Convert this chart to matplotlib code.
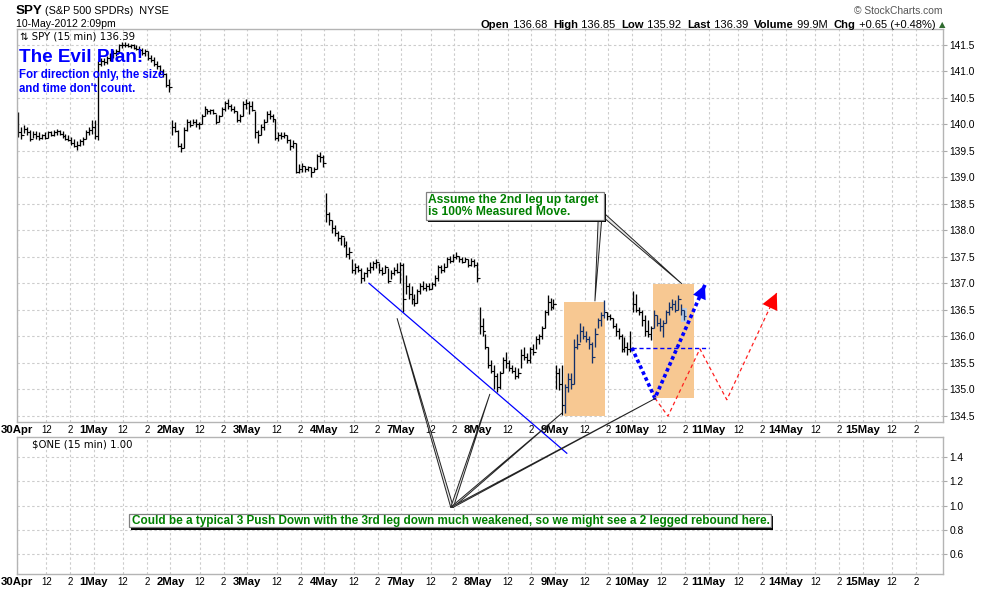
import matplotlib
matplotlib.use('Agg')
import matplotlib.pyplot as plt
from matplotlib.patches import Rectangle, Polygon
from matplotlib import patheffects
from matplotlib.ticker import FormatStrFormatter
from matplotlib.offsetbox import TextArea, HPacker, AnchoredOffsetbox

plt.rcParams['font.family'] = ['Liberation Sans', 'DejaVu Sans']

# trading days on the x axis, 26 bars of 15 min per day
days = ['30Apr', '1May', '2May', '3May', '4May', '7May', '8May',
        '9May', '10May', '11May', '14May', '15May']
bars_per_day = 26

# SPY 15 min bars, one row per day (10May is not finished)
high = [
    [140.24, 139.95, 139.98, 139.95, 139.90, 139.88, 139.88, 139.85, 139.82, 139.85, 139.88, 139.88, 139.90,
     139.92, 139.90, 139.88, 139.82, 139.80, 139.76, 139.72, 139.68, 139.72, 139.76, 139.90, 139.95, 140.08],
    [140.08, 141.20, 141.25, 141.25, 141.30, 141.35, 141.40, 141.42, 141.52, 141.56, 141.56, 141.53, 141.52,
     141.52, 141.50, 141.48, 141.45, 141.42, 141.38, 141.32, 141.28, 141.20, 141.12, 141.05, 140.98, 140.85],
    [140.08, 140.05, 139.90, 139.65, 139.95, 140.10, 140.08, 140.10, 140.10, 140.05, 140.20, 140.35, 140.30,
     140.30, 140.30, 140.20, 140.18, 140.32, 140.45, 140.48, 140.38, 140.35, 140.25, 140.20, 140.45, 140.48],
    [140.45, 140.45, 140.25, 139.90, 140.00, 140.10, 140.25, 140.28, 140.20, 140.10, 139.85, 139.85, 139.85,
     139.80, 139.72, 139.70, 139.65, 139.25, 139.28, 139.22, 139.22, 139.20, 139.20, 139.45, 139.48, 139.42],
    [138.70, 138.35, 138.20, 138.10, 137.98, 137.92, 137.88, 137.80, 137.68, 137.45, 137.38, 137.35, 137.28,
     137.22, 137.30, 137.40, 137.42, 137.45, 137.38, 137.30, 137.35, 137.28, 137.25, 137.30, 137.38, 137.40],
    [137.38, 137.15, 137.00, 136.95, 136.80, 136.90, 137.00, 137.05, 137.00, 137.00, 137.02, 137.15, 137.35,
     137.35, 137.38, 137.50, 137.52, 137.55, 137.60, 137.52, 137.50, 137.50, 137.45, 137.48, 137.45, 137.40],
    [136.55, 136.35, 136.05, 135.80, 135.55, 135.45, 135.30, 135.35, 135.60, 135.70, 135.55, 135.45, 135.42,
     135.40, 135.75, 135.80, 135.68, 135.80, 135.85, 136.00, 136.05, 136.20, 136.50, 136.78, 136.72, 136.70],
    [135.45, 135.40, 135.45, 135.10, 135.30, 135.30, 135.95, 136.05, 136.25, 136.20, 136.10, 136.00, 135.90,
     136.15, 136.35, 136.45, 136.68, 136.45, 136.42, 136.35, 136.25, 136.15, 136.05, 135.98, 135.90, 136.10],
    [136.85, 136.80, 136.55, 136.50, 136.40, 136.30, 136.20, 136.50, 136.40, 136.35, 136.30, 136.50, 136.65,
     136.70, 136.68, 136.78, 136.60, 136.50],
]
low = [
    [139.77, 139.72, 139.84, 139.80, 139.68, 139.75, 139.72, 139.70, 139.72, 139.72, 139.75, 139.78, 139.78,
     139.80, 139.80, 139.75, 139.70, 139.68, 139.62, 139.58, 139.52, 139.60, 139.62, 139.72, 139.80, 139.82],
    [139.72, 139.70, 141.10, 141.12, 141.15, 141.20, 141.25, 141.30, 141.35, 141.45, 141.47, 141.46, 141.45,
     141.42, 141.40, 141.35, 141.32, 141.30, 141.22, 141.18, 141.10, 141.05, 140.95, 140.90, 140.70, 140.62],
    [139.80, 139.85, 139.57, 139.48, 139.55, 139.88, 139.95, 140.00, 139.95, 139.92, 140.00, 140.15, 140.20,
     140.20, 140.20, 140.00, 140.05, 140.15, 140.25, 140.30, 140.25, 140.22, 140.05, 140.05, 140.15, 140.30],
    [140.20, 140.25, 139.75, 139.65, 139.80, 139.90, 140.05, 140.10, 140.05, 139.70, 139.68, 139.72, 139.75,
     139.65, 139.52, 139.55, 139.08, 139.08, 139.10, 139.10, 139.12, 139.00, 139.10, 139.15, 139.30, 139.20],
    [138.15, 138.10, 137.95, 137.90, 137.80, 137.72, 137.68, 137.50, 137.45, 137.20, 137.18, 137.22, 137.00,
     137.05, 137.12, 137.20, 137.25, 137.28, 137.20, 137.15, 137.20, 137.00, 137.08, 137.15, 137.20, 137.00],
    [136.45, 136.80, 136.70, 136.60, 136.58, 136.62, 136.80, 136.88, 136.85, 136.88, 136.90, 136.95, 137.05,
     137.20, 137.22, 137.30, 137.38, 137.40, 137.45, 137.40, 137.38, 137.40, 137.30, 137.32, 137.30, 137.02],
    [136.05, 136.00, 135.75, 135.40, 135.30, 135.00, 134.95, 135.00, 135.30, 135.40, 135.35, 135.30, 135.20,
     135.22, 135.40, 135.55, 135.50, 135.50, 135.65, 135.75, 135.85, 135.95, 136.15, 136.40, 136.50, 136.52],
    [135.00, 134.98, 134.52, 134.55, 134.95, 135.00, 135.10, 135.75, 135.90, 135.95, 135.90, 135.75, 135.50,
     135.80, 136.15, 136.20, 136.35, 136.30, 136.30, 136.15, 136.00, 135.95, 135.70, 135.70, 135.65, 135.70],
    [136.45, 136.45, 136.40, 136.20, 136.00, 135.98, 135.92, 136.15, 136.20, 136.10, 135.98, 136.25, 136.40,
     136.50, 136.45, 136.50, 136.40, 136.30],
]
close = [
    [139.85, 139.80, 139.92, 139.85, 139.72, 139.82, 139.78, 139.75, 139.80, 139.75, 139.85, 139.80, 139.85,
     139.88, 139.82, 139.78, 139.72, 139.70, 139.65, 139.60, 139.62, 139.68, 139.72, 139.85, 139.90, 139.95],
    [139.78, 141.15, 141.20, 141.18, 141.25, 141.30, 141.35, 141.38, 141.50, 141.50, 141.50, 141.48, 141.50,
     141.45, 141.42, 141.40, 141.35, 141.38, 141.25, 141.22, 141.15, 141.10, 141.00, 140.95, 140.75, 140.70],
    [139.95, 139.88, 139.60, 139.55, 139.90, 140.05, 139.98, 140.05, 140.00, 140.00, 140.15, 140.30, 140.25,
     140.28, 140.22, 140.05, 140.15, 140.30, 140.40, 140.35, 140.30, 140.25, 140.08, 140.15, 140.38, 140.40],
    [140.35, 140.28, 139.85, 139.80, 139.95, 140.05, 140.20, 140.15, 140.10, 139.75, 139.80, 139.78, 139.80,
     139.70, 139.60, 139.65, 139.10, 139.15, 139.22, 139.15, 139.20, 139.10, 139.15, 139.40, 139.38, 139.28],
    [138.30, 138.20, 138.05, 137.95, 137.85, 137.90, 137.72, 137.55, 137.60, 137.25, 137.30, 137.25, 137.10,
     137.20, 137.25, 137.30, 137.38, 137.40, 137.25, 137.20, 137.30, 137.05, 137.20, 137.25, 137.22, 137.35],
    [136.70, 136.95, 136.80, 136.70, 136.62, 136.85, 136.95, 136.92, 136.95, 136.90, 136.98, 137.10, 137.30,
     137.25, 137.30, 137.45, 137.42, 137.50, 137.52, 137.45, 137.40, 137.45, 137.35, 137.42, 137.35, 137.10],
    [136.20, 136.10, 135.80, 135.45, 135.35, 135.25, 135.05, 135.30, 135.55, 135.50, 135.40, 135.35, 135.25,
     135.30, 135.65, 135.60, 135.55, 135.75, 135.70, 135.95, 136.00, 136.15, 136.45, 136.65, 136.55, 136.60],
    [135.30, 135.10, 134.70, 135.05, 135.20, 135.10, 135.80, 135.85, 136.10, 136.00, 135.95, 135.85, 135.60,
     136.05, 136.30, 136.40, 136.45, 136.38, 136.35, 136.20, 136.10, 136.00, 135.75, 135.80, 135.75, 135.78],
    [136.60, 136.50, 136.45, 136.30, 136.10, 136.05, 136.15, 136.40, 136.25, 136.20, 136.25, 136.45, 136.55,
     136.60, 136.50, 136.70, 136.50, 136.39],
]

price_ticks = [134.5, 135.0, 135.5, 136.0, 136.5, 137.0, 137.5, 138.0, 138.5, 139.0, 139.5, 140.0, 140.5, 141.0, 141.5]
one_ticks = [0.6, 0.8, 1.0, 1.2, 1.4]

# hand drawn marks, in (bar number, price)
zone_left = [184.9, 215.1]
zone_right = [198.9, 229.0]
zone_low = [134.50, 134.83]
zone_high = [136.65, 136.99]

trend_x = [119.1, 186.0]
trend_y = [137.0, 133.79]

blue_path_x = [208.0, 215.8, 232.7]
blue_path_y = [135.78, 134.83, 136.97]
red_path_x = [215.8, 220.2, 231.0, 240.1, 257.0]
red_path_y = [134.83, 134.49, 135.76, 134.80, 136.82]
level_x = [208.0, 234.2]
level_y = [135.77, 135.77]

push_x = [128.6, 160.0, 184.4, 216.1]
push_y = [136.34, 134.91, 134.55, 134.83]
push_apex = (147.2, 132.77)
push_box = (38.0, 132.39, 255.0, 132.645)
push_note = ('Could be a typical 3 Push Down with the 3rd leg down much weakened, '
             'so we might see a 2 legged rebound here.')

leg_tip_x = [195.5, 224.9]
leg_tip_y = [136.66, 136.99]
leg_base = [[(196.6, 138.2), (197.8, 138.2)], [(198.5, 138.33), (198.5, 138.24)]]
leg_box = (138.4, 138.20, 198.5, 138.72)
leg_note = 'Assume the 2nd leg up target\nis 100% Measured Move.'

quote = [('Open', ' 136.68  '), ('High', ' 136.85  '), ('Low', ' 135.92  '),
         ('Last', ' 136.39  '), ('Volume', ' 99.9M  '), ('Chg', ' +0.65 (+0.48%) ')]

fig = plt.figure(figsize=(9.9, 5.91), dpi=100)
ax = fig.add_axes([16.7 / 990, 1 - 422.3 / 591, 926.6 / 990, 393 / 591])
ax2 = fig.add_axes([16.7 / 990, 1 - 574 / 591, 926.6 / 990, 136.7 / 591])
ax.set_zorder(2)
ax2.set_zorder(1)

# shaded zones
for x0, x1, y0, y1 in zip(zone_left, zone_right, zone_low, zone_high):
    ax.add_patch(Rectangle((x0, y0), x1 - x0, y1 - y0, fc='#f7c892', ec='none', zorder=1))

# price bars
prev = close[0][0]
for d in range(len(close)):
    for i in range(len(close[d])):
        x = d * bars_per_day + i + 0.5
        inside = any(x0 <= x <= x1 for x0, x1 in zip(zone_left, zone_right))
        c = '#12306a' if inside else 'black'
        ax.vlines(x, low[d][i], high[d][i], color=c, lw=0.95, zorder=2)
        ax.hlines(prev, x - 0.7, x, color=c, lw=0.8, zorder=2)
        ax.hlines(close[d][i], x, x + 0.7, color=c, lw=0.8, zorder=2)
        prev = close[d][i]

# last bar highlight
lx = (len(close) - 1) * bars_per_day + len(close[-1]) - 0.5
ax.add_patch(Rectangle((lx - 1.0, low[-1][-1] - 0.03), 2.0, high[-1][-1] - low[-1][-1] + 0.06,
                       fc='#b8cce4', ec='none', zorder=1.5))

# trend line running down into the lower panel
ax.plot(trend_x, trend_y, color='#0000ff', lw=0.9, clip_on=False, zorder=3)

# projected paths
ax.plot(level_x, level_y, color='#0000ff', lw=1.0, ls=(0, (3, 2)), zorder=3)
ax.plot(red_path_x, red_path_y, color='#ff2020', lw=0.9, ls=(0, (3, 2.5)), zorder=3)
ax.plot(blue_path_x, blue_path_y, color='#0000ff', lw=2.6, ls=(0, (1, 0.8)), zorder=3)
for px, py, col, ms in [(blue_path_x, blue_path_y, '#0000ff', 11), (red_path_x, red_path_y, '#ff0000', 13)]:
    tip = (px[-1], py[-1])
    back = (px[-1] - 0.15 * (px[-1] - px[-2]), py[-1] - 0.15 * (py[-1] - py[-2]))
    ax.annotate('', xy=tip, xytext=back, zorder=4,
                arrowprops=dict(arrowstyle='-|>,head_length=0.9,head_width=0.45', fc=col, ec=col,
                                lw=0, shrinkA=0, shrinkB=0, mutation_scale=ms))

# callout wedges
for tx, ty in zip(push_x, push_y):
    ax.add_patch(Polygon([(push_apex[0] - 0.45, push_apex[1]), (push_apex[0] + 0.45, push_apex[1]), (tx, ty)],
                         closed=True, fc='#e6e6e6', ec='#222222', lw=0.7, clip_on=False, zorder=6))
for base, tx, ty in zip(leg_base, leg_tip_x, leg_tip_y):
    ax.add_patch(Polygon([base[0], base[1], (tx, ty)], closed=True, fc='#e6e6e6', ec='#222222',
                         lw=0.7, clip_on=False, zorder=6))

# note boxes with a drop shadow
shadow = [patheffects.SimplePatchShadow(offset=(1.6, -1.6), shadow_rgbFace='black', alpha=1.0),
          patheffects.Normal()]
for bx in (push_box, leg_box):
    r = Rectangle((bx[0], bx[1]), bx[2] - bx[0], bx[3] - bx[1], fc='white', ec='#808080', lw=0.9,
                  clip_on=False, zorder=7)
    r.set_path_effects(shadow)
    ax.add_patch(r)
ax.text(push_box[0] + 1.1, (push_box[1] + push_box[3]) / 2, push_note, color='#008000',
        fontweight='bold', fontsize=8.45, ha='left', va='center', zorder=8, clip_on=False)
ax.text(leg_box[0] + 0.5, (leg_box[1] + leg_box[3]) / 2, leg_note, color='#008000',
        fontweight='bold', fontsize=8.7, ha='left', va='center', linespacing=1.1, zorder=8)

# notes in the top left corner
ax.text(0.0025, 0.9176, 'The Evil Plan!', transform=ax.transAxes, color='#0000ff',
        fontsize=13.6, fontweight='bold', va='baseline', zorder=7)
ax.text(0.0025, 0.876, 'For direction only, the size', transform=ax.transAxes, color='#0000ff',
        fontsize=8.3, fontweight='bold', va='baseline', zorder=7)
ax.text(0.0025, 0.8405, "and time don't count.", transform=ax.transAxes, color='#0000ff',
        fontsize=8.3, fontweight='bold', va='baseline', zorder=7)
ax.text(0.0035, 0.9728, '\u21c5 SPY (15 min) 136.39', transform=ax.transAxes, family='DejaVu Sans',
        fontsize=7.3, va='baseline', zorder=7)
ax2.text(0.0162, 0.925, '$ONE (15 min) 1.00', transform=ax2.transAxes, family='DejaVu Sans',
         fontsize=7.3, va='baseline')

# axes styling
tick_pos, tick_lab = [], []
for d, name in enumerate(days):
    tick_pos += [d * bars_per_day, d * bars_per_day + 10, d * bars_per_day + 18]
    tick_lab += [name, '12', '2']

for a in (ax, ax2):
    a.set_xlim(0, 313.3)
    a.set_xticks(tick_pos)
    a.set_xticklabels(tick_lab)
    for lab in a.get_xticklabels():
        if lab.get_text() in days:
            lab.set_fontweight('bold')
            lab.set_fontsize(8.2)
        else:
            lab.set_fontsize(7)
    a.tick_params(axis='x', length=0, pad=2.2)
    a.yaxis.tick_right()
    a.tick_params(axis='y', length=3, width=0.8, color='#aaaaaa', pad=1.5, labelsize=7.4)
    a.grid(True, color='#cccccc', ls=(0, (2.2, 2.2)), lw=0.8)
    a.set_axisbelow(True)
    for s in a.spines.values():
        s.set_color('#b4b4b4')
        s.set_linewidth(1.0)

ax.set_ylim(134.374, 141.797)
ax.set_yticks(price_ticks)
ax.yaxis.set_major_formatter(FormatStrFormatter('%.1f'))
ax2.set_ylim(0.439, 1.559)
ax2.set_yticks(one_ticks)
ax2.yaxis.set_major_formatter(FormatStrFormatter('%.1f'))

# header
fig.text(16 / 990, 1 - 14.5 / 591, 'SPY', fontsize=9.6, fontweight='bold', va='baseline')
fig.text(45 / 990, 1 - 14.5 / 591, '(S&P 500 SPDRs)  NYSE', fontsize=7.8, va='baseline')
fig.text(16 / 990, 1 - 27 / 591, '10-May-2012 2:09pm', fontsize=7.6, va='baseline')
fig.text(943 / 990, 1 - 14 / 591, '\u00a9 StockCharts.com', fontsize=7.4, color='#555555',
         ha='right', va='baseline')

parts = []
for name, val in quote:
    parts.append(TextArea(name, textprops=dict(fontsize=8.1, fontweight='bold')))
    parts.append(TextArea(val, textprops=dict(fontsize=8)))
parts.append(TextArea('\u25b2', textprops=dict(fontsize=6, color='#2e6b2e', family='DejaVu Sans')))
pack = HPacker(children=parts, align='baseline', pad=0, sep=0)
fig.add_artist(AnchoredOffsetbox(loc='lower right', child=pack, pad=0, borderpad=0, frameon=False,
                                 bbox_to_anchor=(945 / 990, 1 - 29.5 / 591),
                                 bbox_transform=fig.transFigure))

fig.savefig('out.png', dpi=100, facecolor='white')
